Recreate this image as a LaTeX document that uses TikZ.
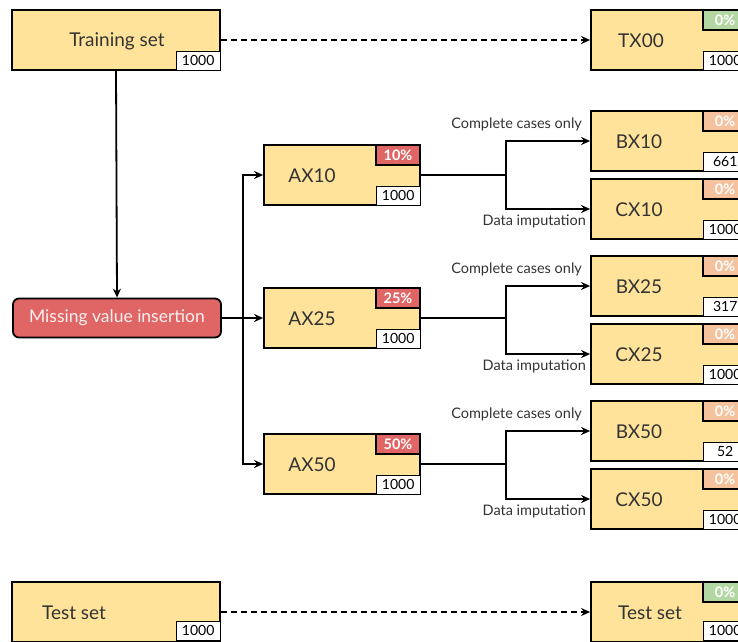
\documentclass[tikz,border=0pt]{standalone}
\usepackage{fontspec}
\setmainfont{Lato}
\usepackage{xcolor}
\usetikzlibrary{calc,arrows.meta}

\definecolor{boxyellow}{HTML}{FFE39A}
\definecolor{insertred}{HTML}{E06666}
\definecolor{badgepeach}{HTML}{F6C29D}
\definecolor{badgegreen}{HTML}{B3D7A3}
\definecolor{inktext}{HTML}{333333}

\begin{document}
\begin{tikzpicture}[x=1pt,y=-1pt,
    databox/.style={draw=black,line width=1.8pt,fill=boxyellow,minimum width=156pt,minimum height=60pt,inner sep=0pt},
    wideset/.style={databox,minimum width=208pt},
    boxtext/.style={text=inktext,font=\fontsize{19}{22}\selectfont},
    pctbadge/.style={draw=black,line width=1.8pt,minimum width=44pt,minimum height=20pt,inner sep=0pt,text=white,font=\fontsize{14.5}{16}\selectfont\bfseries,anchor=north east},
    countbox/.style={draw=black,line width=1.4pt,fill=white,minimum width=44pt,minimum height=19pt,inner sep=0pt,text=black,font=\fontsize{14}{16}\selectfont,anchor=south east},
    branchlabel/.style={text=inktext,font=\fontsize{14.5}{17}\selectfont,inner sep=0pt},
    link/.style={line width=1.8pt,-{Stealth[length=9pt,width=8pt,inset=3pt]}},
    dashlink/.style={link,dash pattern=on 6pt off 4pt}]

    \useasboundingbox (0,0) rectangle (738,641);
    \clip (0,0) rectangle (738,641);

    % Training / test sets
    \node[wideset] (train) at (116,40) {};
    \node[boxtext] at (117,41) {Training set};
    \node[countbox] (traincount) at (train.south east) {1000};

    \node[wideset] (test) at (116,612) {};
    \node[boxtext] at (74,613) {Test set};
    \node[countbox] (testcount) at ($(test.south east)+(0,-2)$) {1000};

    % Missing value insertion
    \node[draw=black,line width=1.8pt,fill=insertred,rounded corners=6pt,minimum width=208pt,minimum height=39pt,
          text=white!90!insertred,font=\fontsize{17.5}{20}\selectfont] (insert) at (117,318) {Missing value insertion};

    % Datasets with missing values
    \node[databox] (ax10) at (342,175) {};
    \node[boxtext] at (312,176) {AX10};
    \node[pctbadge,fill=insertred] at (ax10.north east) {10\%};
    \node[countbox] at (ax10.south east) {1000};

    \node[databox] (ax25) at (342,318) {};
    \node[boxtext] at (312,319) {AX25};
    \node[pctbadge,fill=insertred] at (ax25.north east) {25\%};
    \node[countbox] at (ax25.south east) {1000};

    \node[databox] (ax50) at (342,464) {};
    \node[boxtext] at (312,465) {AX50};
    \node[pctbadge,fill=insertred] at (ax50.north east) {50\%};
    \node[countbox] at (ax50.south east) {1000};

    % Right column
    \node[databox] (tx00) at (669,40) {};
    \node[boxtext] at (641,41) {TX00};
    \node[pctbadge,fill=badgegreen] at (tx00.north east) {0\%};
    \node[countbox] at (tx00.south east) {1000};

    \node[databox] (bx10) at (669,141) {};
    \node[boxtext] at (639,142) {BX10};
    \node[pctbadge,fill=badgepeach] at (bx10.north east) {0\%};
    \node[countbox] at (bx10.south east) {661};

    \node[databox] (cx10) at (669,209) {};
    \node[boxtext] at (639,210) {CX10};
    \node[pctbadge,fill=badgepeach] at (cx10.north east) {0\%};
    \node[countbox] at (cx10.south east) {1000};

    \node[databox] (bx25) at (669,286) {};
    \node[boxtext] at (639,287) {BX25};
    \node[pctbadge,fill=badgepeach] at (bx25.north east) {0\%};
    \node[countbox] at (bx25.south east) {317};

    \node[databox] (cx25) at (669,354) {};
    \node[boxtext] at (639,355) {CX25};
    \node[pctbadge,fill=badgepeach] at (cx25.north east) {0\%};
    \node[countbox] at (cx25.south east) {1000};

    \node[databox] (bx50) at (669,431) {};
    \node[boxtext] at (639,432) {BX50};
    \node[pctbadge,fill=badgepeach] at (bx50.north east) {0\%};
    \node[countbox] at (bx50.south east) {52};

    \node[databox] (cx50) at (669,499) {};
    \node[boxtext] at (639,500) {CX50};
    \node[pctbadge,fill=badgepeach] at (cx50.north east) {0\%};
    \node[countbox] at (cx50.south east) {1000};

    \node[databox] (testout) at (669,612) {};
    \node[boxtext] at (650,613) {Test set};
    \node[pctbadge,fill=badgegreen] at (testout.north east) {0\%};
    \node[countbox] at ($(testout.south east)+(0,-2)$) {1000};

    % Connectors
    \draw[dashlink] (train) -- (tx00);
    \draw[dashlink] (test) -- (testout);
    \draw[link] (train.south) -- (insert.north);
    \draw[link] (insert) -- (ax25);
    \coordinate (fork) at (243,318);
    \draw[link] (fork) |- (ax10.west);
    \draw[link] (fork) |- (ax50.west);

    \foreach \lvl in {10,25,50} {
        \draw[line width=1.8pt] (ax\lvl.east) -- ++(85,0) coordinate (split\lvl);
        \draw[link] (split\lvl) |- (bx\lvl.west);
        \draw[link] (split\lvl) |- (cx\lvl.west);
        \node[branchlabel,anchor=south east] at ($(bx\lvl.west)+(-8,-10)$) {Complete cases only};
        \node[branchlabel,anchor=north east] at ($(cx\lvl.west)+(-4,6)$) {Data imputation};
    }
\end{tikzpicture}
\end{document}
